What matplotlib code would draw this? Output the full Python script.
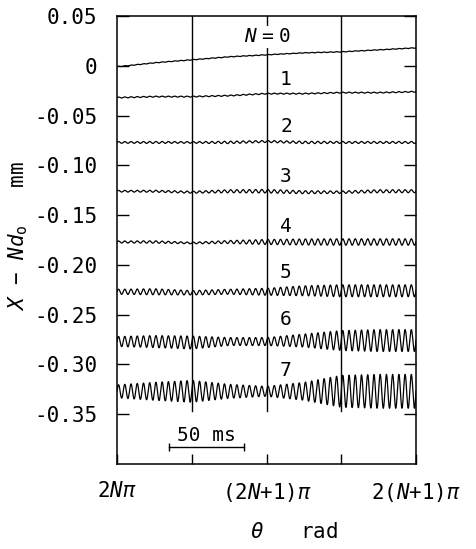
import numpy as np
import matplotlib
matplotlib.use("Agg")
import matplotlib.pyplot as plt

plt.rcParams['font.family'] = ['DejaVu Sans Mono', 'DejaVu Sans']
plt.rcParams['mathtext.fontset'] = 'custom'
plt.rcParams['mathtext.rm'] = 'DejaVu Sans Mono'
plt.rcParams['mathtext.it'] = 'DejaVu Sans Mono:italic'

# phase axis in units of pi: 2N*pi .. 2(N+1)*pi
knots = [0.0, 0.25, 0.5, 0.75, 1.0, 1.25, 1.5, 1.75, 2.0]
n_cycles = 48  # oscillation periods over one revolution

# mean displacement X - N*d0 (mm) at each knot, N = 0..7
offset = {
    0: [-0.001, 0.003, 0.006, 0.009, 0.011, 0.013, 0.014, 0.016, 0.018],
    1: [-0.032, -0.031, -0.031, -0.030, -0.028, -0.028, -0.027, -0.027, -0.026],
    2: [-0.077, -0.077, -0.077, -0.077, -0.076, -0.077, -0.077, -0.077, -0.077],
    3: [-0.126, -0.126, -0.127, -0.126, -0.126, -0.127, -0.127, -0.126, -0.126],
    4: [-0.177, -0.177, -0.178, -0.177, -0.177, -0.177, -0.177, -0.177, -0.177],
    5: [-0.227, -0.227, -0.228, -0.227, -0.227, -0.226, -0.226, -0.226, -0.226],
    6: [-0.277, -0.277, -0.278, -0.277, -0.277, -0.276, -0.276, -0.276, -0.276],
    7: [-0.327, -0.327, -0.327, -0.327, -0.327, -0.327, -0.327, -0.327, -0.327],
}
# vibration amplitude (mm) at each knot
amplitude = {
    0: [0.0003, 0.0003, 0.0003, 0.0003, 0.0003, 0.0003, 0.0003, 0.0003, 0.0003],
    1: [0.0005, 0.0005, 0.0005, 0.0005, 0.0005, 0.0005, 0.0005, 0.0005, 0.0005],
    2: [0.0008, 0.0010, 0.0008, 0.0012, 0.0010, 0.0012, 0.0010, 0.0010, 0.0010],
    3: [0.0008, 0.0010, 0.0010, 0.0015, 0.0018, 0.0015, 0.0012, 0.0015, 0.0015],
    4: [0.0010, 0.0012, 0.0008, 0.0015, 0.0025, 0.0030, 0.0032, 0.0032, 0.0032],
    5: [0.0025, 0.0030, 0.0022, 0.0025, 0.0035, 0.0050, 0.0060, 0.0060, 0.0060],
    6: [0.0050, 0.0060, 0.0065, 0.0040, 0.0040, 0.0065, 0.0100, 0.0110, 0.0110],
    7: [0.0065, 0.0090, 0.0110, 0.0070, 0.0050, 0.0090, 0.0160, 0.0170, 0.0170],
}
label_y = [0.029, -0.014, -0.061, -0.111, -0.161, -0.208, -0.255, -0.306]

yticks = [0.05, 0.0, -0.05, -0.10, -0.15, -0.20, -0.25, -0.30, -0.35]
ytick_labels = ['0.05', '0', '-0.05', '-0.10', '-0.15', '-0.20', '-0.25', '-0.30', '-0.35']
xticks = [0, 0.5, 1, 1.5, 2]
xtick_labels = [r'2$N\pi$', '', r'(2$N$+1)$\pi$', '', r'2($N$+1)$\pi$']

fig = plt.figure(figsize=(4.77, 5.49), dpi=100)
ax = fig.add_axes([117 / 477, 1 - 464 / 549, 299 / 477, 448 / 549])

theta = np.linspace(0, 2, 3000)
for n in range(8):
    base = np.interp(theta, knots, offset[n])
    amp = np.interp(theta, knots, amplitude[n])
    ax.plot(theta, base + amp * np.sin(2 * np.pi * n_cycles * theta / 2),
            color='black', lw=0.9, zorder=3)

for xv in [0.5, 1.0, 1.5]:
    ax.axvline(xv, ymin=(-0.347 + 0.40) / 0.45, ymax=1, color='black', lw=1.0, zorder=2)

ax.text(1.01, label_y[0], r'$N\;=\;0$', ha='center', va='center', fontsize=14,
        bbox=dict(facecolor='white', edgecolor='none', pad=1), zorder=4)
for n in range(1, 8):
    ax.text(1.13, label_y[n], str(n), ha='center', va='center', fontsize=14, zorder=4)

# 50 ms time scale
ax.errorbar([0.348, 0.849], [-0.383, -0.383], yerr=0.004, color='black', lw=1.0,
            capsize=0, elinewidth=1.0)
ax.text(0.60, -0.371, '50 ms', ha='center', va='center', fontsize=14)

ax.set_xlim(0, 2)
ax.set_ylim(-0.40, 0.05)
ax.set_yticks(yticks)
ax.set_yticklabels(ytick_labels)
ax.set_xticks(xticks)
ax.set_xticklabels(xtick_labels)
ax.tick_params(axis='y', direction='in', length=8.6, width=1.0, right=True,
               labelsize=15, pad=14)
ax.tick_params(axis='x', direction='in', length=7.5, width=1.0, labelsize=15, pad=12)
for s in ax.spines.values():
    s.set_linewidth(1.1)

ax.text((294 - 117) / 299, -(532 - 464) / 448, r'$\theta$   rad', transform=ax.transAxes,
        ha='center', va='center', fontsize=15)
fig.text(18 / 477, 1 - 236 / 549, r'$X$ $-$ $Nd_{\rm o}$   mm', rotation=90,
         ha='center', va='center', fontsize=15)

fig.savefig('out.png', dpi=100)
